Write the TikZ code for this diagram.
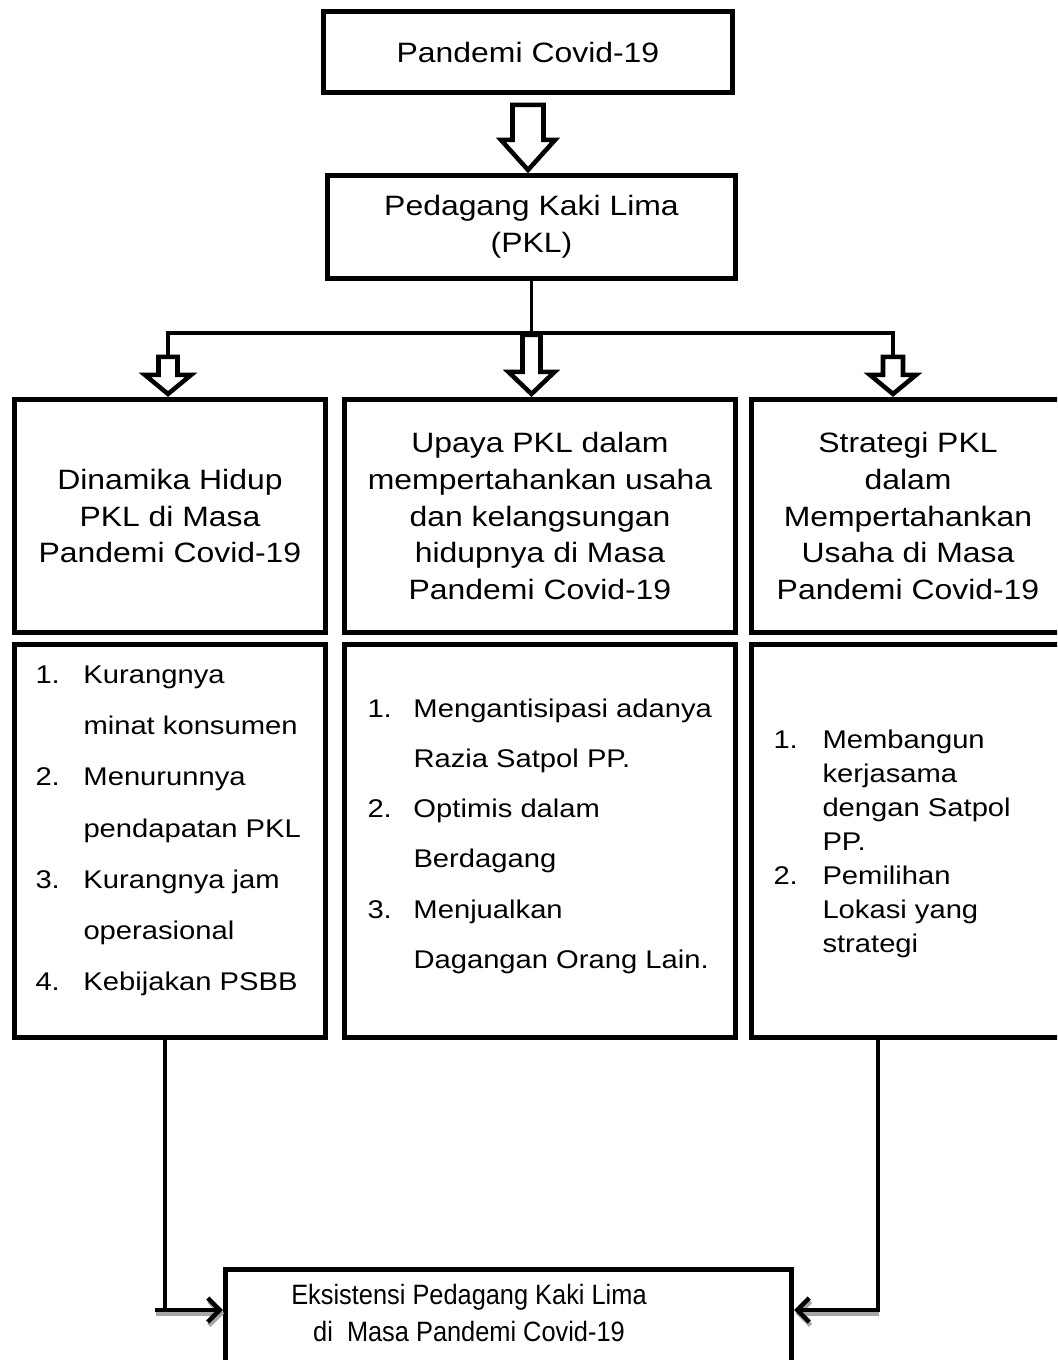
\documentclass[tikz,border=0pt]{standalone}
\usepackage{fontspec}
\setmainfont{Liberation Sans}[FakeStretch=1.14]
\newfontfamily\plainfont{Liberation Sans}[FakeStretch=0.906]
\usetikzlibrary{arrows.meta}

\tikzset{every picture/.style={line width=0.75pt}}
\tikzset{
  frame/.style={draw, line width=3.8pt, inner sep=0pt, align=center, font=\fontsize{21}{27.6}\selectfont},
  wh/.style 2 args={minimum width=#1*0.75pt, minimum height=#2*0.75pt},
  items/.style={anchor=north west, inner sep=0pt, font=\fontsize{19.2}{#1}\selectfont},
  conn/.style={line width=2.6pt},
  thickconn/.style={line width=3.4pt},
  barb/.style={thickconn, -{Straight Barb[length=9pt,width=18pt]}},
  ghost/.style={barb, black!35, transform canvas={xshift=1pt,yshift=-2.5pt}},
  hollowline/.style={draw, fill=white, line width=3.4pt, line join=miter},
  pics/hollow/.style n args={4}{code={
    % shaft half width, shaft length, head half width, head length
    \path[hollowline] (0,3) -- (-#3,3+#4) -- (-#1,3+#4) -- (-#1,3+#4+#2)
      -- (#1,3+#4+#2) -- (#1,3+#4) -- (#3,3+#4) -- cycle;
  }},
}

\begin{document}
\begin{tikzpicture}[x=0.75pt,y=0.75pt,yscale=-1,xscale=1]
\useasboundingbox (0,0) rectangle (1057,1360);
\clip (0,0) rectangle (1057,1360);

%Top boxes
\node[frame, wh={409}{81}] (pandemi) at (528,52) {Pandemi Covid-19};
\node[frame, wh={408}{103}] (pkl) at (531.5,227) {Pedagang Kaki Lima\\(PKL)};

%Header boxes
\node[frame, wh={311}{233}] (hd1) at (170,516) {Dinamika Hidup\\PKL di Masa\\Pandemi Covid-19};
\node[frame, wh={391}{233}] (hd2) at (540,516) {Upaya PKL dalam\\mempertahankan usaha\\dan kelangsungan\\hidupnya di Masa\\Pandemi Covid-19};
\node[frame, wh={313}{233}] (hd3) at (908,516) {Strategi PKL\\dalam\\Mempertahankan\\Usaha di Masa\\Pandemi Covid-19};

%List boxes
\node[frame, wh={311}{393}] (ls1) at (170,841) {};
\node[frame, wh={391}{393}] (ls2) at (540,841) {};
\node[frame, wh={313}{393}] (ls3) at (908,841) {};

\node[items=38.4] (items1) at (35,647.2) {\begin{tabular}{@{}p{36pt}@{}l@{}}
1. & Kurangnya\\ & minat konsumen\\
2. & Menurunnya\\ & pendapatan PKL\\
3. & Kurangnya jam\\ & operasional\\
4. & Kebijakan PSBB\end{tabular}};
\node[items=37.7] (items2) at (367,681.5) {\begin{tabular}{@{}p{34.5pt}@{}l@{}}
1. & Mengantisipasi adanya\\ & Razia Satpol PP.\\
2. & Optimis dalam\\ & Berdagang\\
3. & Menjualkan\\ & Dagangan Orang Lain.\end{tabular}};
\node[items=25.5] (items3) at (773,724.2) {\begin{tabular}{@{}p{36.75pt}@{}l@{}}
1. & Membangun\\ & kerjasama\\ & dengan Satpol\\ & PP.\\
2. & Pemilihan\\ & Lokasi yang\\ & strategi\end{tabular}};

%Bottom box
\node[frame, wh={566}{130.5}] (eks) at (508.5,1334.75) {};
\node[inner sep=0pt, align=center, font=\plainfont\fontsize{21}{27.75}\selectfont] (ekstext) at (469,1313.3) {Eksistensi Pedagang Kaki Lima\\di~~Masa Pandemi Covid-19};

%Branch lines
\coordinate (lsplit) at (168,333);
\coordinate (rsplit) at (893,333);
\coordinate (lshaft) at (168,357);
\coordinate (rshaft) at (893,357);
\draw[conn] (pkl.south) -- (pkl.south |- lsplit);
\draw[conn] (lshaft) -- (lsplit) -- (rsplit) -- (rshaft);

%Hollow arrows
\pic at (pkl.north -| pandemi.south) {hollow={15.5}{35}{27}{30}};
\pic at (hd1.north -| lsplit) {hollow={9.5}{18}{23}{19}};
\pic at (hd2.north -| pkl.south) {hollow={9}{37}{23}{22}};
\pic at (hd3.north -| rsplit) {hollow={10}{18}{23}{19}};

%Bottom connectors
\coordinate (lbend) at (165,1310);
\coordinate (lstart) at (155,1310);
\coordinate (rbend) at (878,1310);
\draw[thickconn] (ls1.south -| lbend) -- (lbend);
\draw[ghost] (lstart) -- (eks.west |- lbend);
\draw[barb] (lstart) -- (eks.west |- lbend);
\draw[ghost] (rbend) -- (eks.east |- rbend);
\draw[barb] (ls3.south -| rbend) -- (rbend) -- (eks.east |- rbend);

\end{tikzpicture}
\end{document}
